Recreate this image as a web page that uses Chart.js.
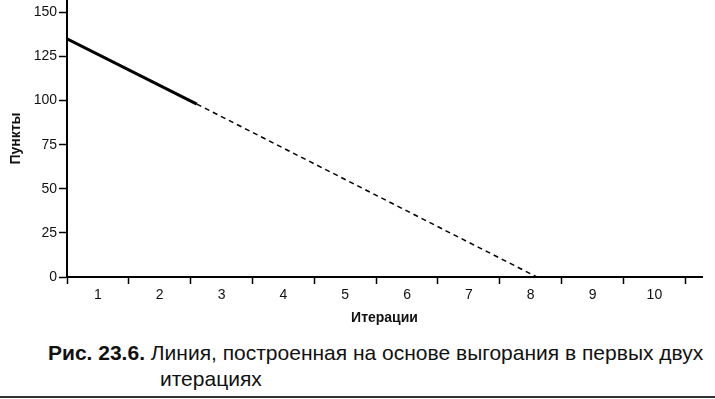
<!DOCTYPE html>
<html lang="ru">
<head>
  <meta charset="UTF-8" />
  <title>Линия выгорания</title>
  <script src="https://cdn.jsdelivr.net/npm/chart.js"></script>
  <style>
    body { margin: 0; background: #fff; width: 715px; height: 399px; position: relative; overflow: hidden; }
    #wrap { position: absolute; left: 0; top: 0; width: 715px; height: 330px; }
    .cap { position: absolute; font-family: "Liberation Sans", Arial, sans-serif; font-size: 21px; color: #111; white-space: nowrap; }
    #rule { position: absolute; left: 0; top: 396px; width: 715px; height: 0; border-top: 2px solid #333; }
  </style>
</head>
<body>
  <div id="wrap"><canvas id="burn"></canvas></div>
  <div class="cap" style="left:48px; top:341px;"><b>Рис. 23.6.</b> Линия, построенная на основе выгорания в первых двух</div>
  <div class="cap" style="left:160px; top:367px;">итерациях</div>
  <div id="rule"></div>

  <script>
    // данные
    const iterations = ['1', '2', '3', '4', '5', '6', '7', '8', '9', '10'];
    const yTicks = [0, 25, 50, 75, 100, 125, 150];
    // фактическое выгорание (сплошная линия)
    const factX = [0, 2.1];
    const factY = [135, 98];
    // прогноз (пунктир)
    const forecastX = [2.1, 7.6];
    const forecastY = [98, 0];

    const toPoints = (xs, ys) => xs.map((x, i) => ({ x, y: ys[i] }));
    const font = { family: "'Liberation Sans', Arial, sans-serif", size: 14 };

    new Chart(document.getElementById('burn'), {
      type: 'line',
      data: {
        datasets: [
          {
            label: 'Факт',
            data: toPoints(factX, factY),
            borderColor: '#000',
            borderWidth: 3,
            pointRadius: 0,
            fill: false
          },
          {
            label: 'Прогноз',
            data: toPoints(forecastX, forecastY),
            borderColor: '#000',
            borderWidth: 1.5,
            borderDash: [5, 4],
            pointRadius: 0,
            fill: false
          }
        ]
      },
      options: {
        responsive: true,
        maintainAspectRatio: false,
        animation: false,
        layout: { padding: { left: 8, right: 13, top: 0, bottom: 0 } },
        plugins: { legend: { display: false }, tooltip: { enabled: false } },
        scales: {
          x: {
            type: 'linear',
            min: 0,
            max: 10.27,
            afterBuildTicks: s => {
              const t = [];
              for (let i = 0; i <= iterations.length; i++) {
                t.push({ value: i });
                if (i < iterations.length) t.push({ value: i + 0.5 });
              }
              s.ticks = t;
            },
            afterFit: s => { s.height = 53; },
            ticks: {
              autoSkip: false,
              maxRotation: 0,
              padding: 3,
              color: '#111',
              font,
              callback: v => (v % 1 ? iterations[Math.floor(v)] : '')
            },
            grid: {
              drawOnChartArea: false,
              tickLength: 7,
              tickWidth: 1.5,
              tickColor: ctx => (ctx.tick && ctx.tick.value % 1 ? 'rgba(0,0,0,0)' : '#000')
            },
            border: { color: '#000', width: 2 },
            title: {
              display: true,
              text: 'Итерации',
              color: '#111',
              font: { ...font, weight: 'bold' },
              padding: { top: 0, bottom: 3 }
            }
          },
          y: {
            min: 0,
            max: 157,
            afterBuildTicks: s => { s.ticks = yTicks.map(v => ({ value: v })); },
            // ось доходит до самого верха рисунка
            afterFit: s => { s.width = 59; s.paddingTop = 0; },
            ticks: { padding: 2, color: '#111', font },
            grid: { drawOnChartArea: false, tickLength: 8, tickWidth: 1.5, tickColor: '#000' },
            border: { color: '#000', width: 2 },
            title: {
              display: true,
              text: 'Пункты',
              color: '#111',
              font: { ...font, weight: 'bold' },
              padding: 0
            }
          }
        }
      }
    });
  </script>
</body>
</html>
